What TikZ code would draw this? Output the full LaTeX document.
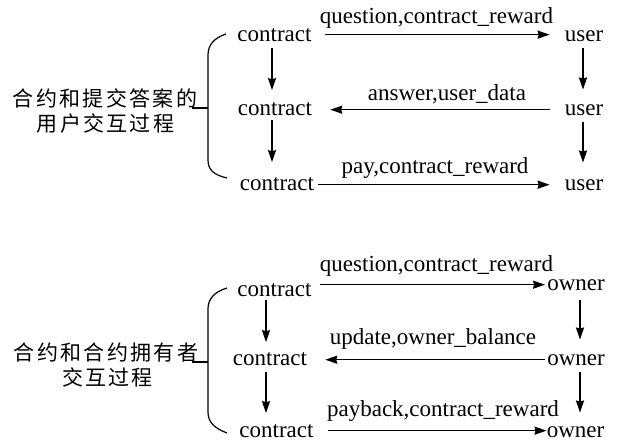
\documentclass[tikz,border=0pt]{standalone}
\usepackage{fontspec}
\setmainfont{Liberation Serif}
\newfontfamily\cjk[LetterSpace=11]{Noto Sans CJK SC}
\usetikzlibrary{arrows.meta}
\tikzset{
  word/.style={inner sep=0pt, anchor=base, font=\fontsize{23}{27}\selectfont},
  lbl/.style={inner sep=0pt, anchor=base, font=\fontsize{23}{27}\selectfont},
  zh/.style={inner sep=0pt, anchor=center, font=\cjk\fontsize{21}{25}\selectfont},
  arr/.style={line width=1.6pt, -{Stealth[length=12pt,width=8pt,inset=1pt]}},
  brace/.style={line width=1.2pt}
}
\begin{document}
\begin{tikzpicture}[x=1pt,y=-1pt]
\useasboundingbox (0,0) rectangle (619,445);
% top group
\node[word] (c1) at (274.5,41) {contract};
\node[word] (c2) at (275,115) {contract};
\node[word] (c3) at (277,190) {contract};
\node[word] (u1) at (584,41) {user};
\node[word] (u2) at (584,115) {user};
\node[word] (u3) at (584,190) {user};
\node[lbl] (l1) at (436.5,23) {question,contract\_reward};
\node[lbl] (l2) at (447,100) {answer,user\_data};
\node[lbl] (l3) at (435,173) {pay,contract\_reward};
\node[zh] (t1) at (105,98) {合约和提交答案的};
\node[zh] (t2) at (105.5,123) {用户交互过程};
\draw[arr, shorten <=13pt, shorten >=15pt] (c1.east) -- (c1.east -| u1.west);
\draw[arr, shorten <=15pt, shorten >=18pt] (u2.west) -- (u2.west -| c2.east);
\draw[arr, shorten <=4pt, shorten >=15pt] (u3.west -| c3.east) -- (u3.west);
\draw[arr, shorten <=7pt, shorten >=11.7pt] ([xshift=-2.5pt]c1.south) -- ([xshift=-2.5pt]c1.south |- c2.north);
\draw[arr, shorten <=5pt, shorten >=14.7pt] ([xshift=-3pt]c2.south) -- ([xshift=-3pt]c2.south |- c3.north);
\draw[arr, shorten <=7pt, shorten >=14.4pt] ([xshift=-1pt]u1.south) -- ([xshift=-1pt]u1.south |- u2.north);
\draw[arr, shorten <=7pt, shorten >=16.4pt] ([xshift=-1pt]u2.south) -- ([xshift=-1pt]u2.south |- u3.north);
\coordinate (bt) at (192,108);
\draw[brace] (226,34) .. controls (214,38) and (208,45) .. (208,55) -- (208,160) .. controls (208,170) and (214,175) .. (227,178);
\draw[brace] (bt) -- (bt -| 208,0);
% bottom group
\node[word] (d1) at (274.5,296) {contract};
\node[word] (d2) at (270,365) {contract};
\node[word] (d3) at (276.5,437) {contract};
\node[word] (o1) at (576,290) {owner};
\node[word] (o2) at (576,365) {owner};
\node[word] (o3) at (575.5,437) {owner};
\node[lbl] (m1) at (436.5,271) {question,contract\_reward};
\node[lbl] (m2) at (433,344) {update,owner\_balance};
\node[lbl] (m3) at (443,416) {payback,contract\_reward};
\node[zh] (b1) at (106,352) {合约和合约拥有者};
\node[zh] (b2) at (107.5,377) {交互过程};
\draw[arr, shorten <=8pt, shorten >=2pt] (o1.west -| d1.east) -- (o1.west);
\draw[arr, shorten <=2pt, shorten >=18pt] (o2.west) -- (o2.west -| d2.east);
\draw[arr, shorten <=14pt, shorten >=0pt] (d3.east) -- (d3.east -| o3.west);
\draw[arr, shorten <=4pt, shorten >=9.7pt] ([xshift=-8.5pt]d1.south) -- ([xshift=-8.5pt]d1.south |- d2.north);
\draw[arr, shorten <=7pt, shorten >=10.7pt] ([xshift=-4pt]d2.south) -- ([xshift=-4pt]d2.south |- d3.north);
\draw[arr, shorten <=10pt, shorten >=14.4pt] ([xshift=4pt]o1.south) -- ([xshift=4pt]o1.south |- o2.north);
\draw[arr, shorten <=7pt, shorten >=13.4pt] ([xshift=4pt]o2.south) -- ([xshift=4pt]o2.south |- o3.north);
\coordinate (bb) at (192,362);
\draw[brace] (227,288) .. controls (214,292) and (208,299) .. (208,309) -- (208,412) .. controls (208,422) and (214,428) .. (227,433);
\draw[brace] (bb) -- (bb -| 208,0);
\end{tikzpicture}
\end{document}
